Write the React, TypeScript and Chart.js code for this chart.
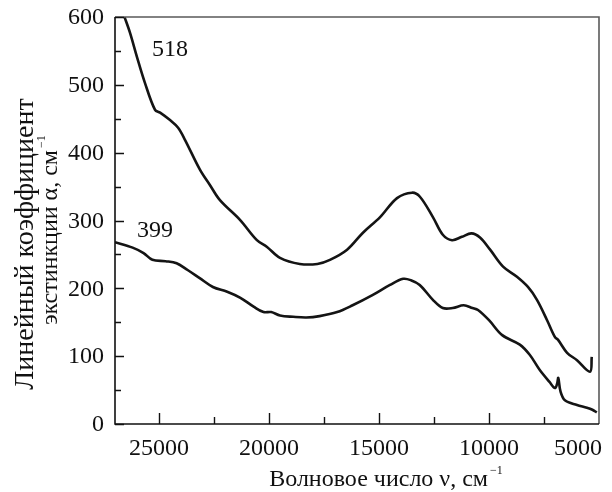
import { useEffect, useRef } from "react";
import { Chart, registerables } from "chart.js";

Chart.register(...registerables);

// Sample 518: wavenumber (cm^-1) and linear extinction coefficient (cm^-1)
const waveNum518 = [
  26600, 26320, 26000, 25640, 25180, 24950, 24500, 24140, 23820, 23140, 22680,
  22230, 21320, 20550, 20090, 19500, 18600, 17800, 17230, 16450, 15730, 14950,
  14180, 13500, 13140, 12550, 12100, 11680, 11230, 10800, 10410, 9950, 9360,
  8730, 8230, 7820, 7360, 7000, 6860, 6450, 6000, 5410, 5330,
];
const alpha518 = [
  603, 577, 541, 503, 463, 459, 448, 437, 419, 375, 352, 330, 301, 271, 261,
  245, 236, 236, 242, 257, 282, 305, 333, 341, 335, 305, 279, 271, 276, 281,
  275, 257, 232, 217, 202, 183, 153, 128, 124, 105, 94, 77, 99,
];

// Sample 399
const waveNum399 = [
  27000, 26200, 25700, 25300, 24700, 24200, 23700, 23150, 22550, 21900, 21300,
  20700, 20250, 19900, 19500, 18900, 18300, 17700, 16900, 16200, 15300, 14500,
  13900, 13550, 13150, 12550, 12100, 11650, 11150, 10750, 10500, 10000, 9400,
  8600, 8150, 7700, 7250, 7000, 6900, 6850, 6750, 6550, 6000, 5550, 5300, 5100,
];
const alpha399 = [
  268, 260, 252, 242, 240, 237, 227, 215, 202, 195, 186, 173, 165, 165, 160,
  158, 157, 159, 165, 175, 190, 205, 214, 212, 205, 183, 171, 171, 175, 171,
  168, 153, 131, 117, 102, 80, 62, 53, 60, 68, 48, 35, 28, 24, 21, 17,
];

const xMajorTicks = [25000, 20000, 15000, 10000, 5000];
const xMinorTicks = [22500, 17500, 12500, 7500];
const yMajorTicks = [0, 100, 200, 300, 400, 500, 600];
const yMinorTicks = [50, 150, 250, 350, 450, 550];

const curveNames = ["518", "399"];
const curveNameWave = [24500, 25180];
const curveNameAlpha = [552, 285];

const SERIF = '"Liberation Serif", "Times New Roman", serif';
const TICK_SIZE = 24;

function drawWithSuperscript(
  ctx: CanvasRenderingContext2D,
  main: string,
  sup: string,
  cx: number,
  baseline: number,
  size: number
) {
  ctx.font = `${size}px ${SERIF}`;
  const w1 = ctx.measureText(main).width;
  const supSize = Math.round(size * 0.52);
  ctx.font = `${supSize}px ${SERIF}`;
  const w2 = ctx.measureText(sup).width;
  const start = cx - (w1 + w2 + 2) / 2;
  ctx.textAlign = "left";
  ctx.textBaseline = "alphabetic";
  ctx.font = `${size}px ${SERIF}`;
  ctx.fillText(main, start, baseline);
  ctx.font = `${supSize}px ${SERIF}`;
  ctx.fillText(sup, start + w1 + 2, baseline - size * 0.5);
}

const frameAndLabels = {
  id: "frameAndLabels",
  afterDraw(chart: Chart) {
    const { ctx, chartArea, scales } = chart;
    const { left, right, top, bottom } = chartArea;
    const x = scales.x;
    const y = scales.y;
    ctx.save();

    // box: top/right lighter, left/bottom axes black
    ctx.lineWidth = 1.6;
    ctx.strokeStyle = "#5a5a5a";
    ctx.beginPath();
    ctx.moveTo(left, top);
    ctx.lineTo(right, top);
    ctx.lineTo(right, bottom);
    ctx.stroke();
    ctx.strokeStyle = "#111";
    ctx.beginPath();
    ctx.moveTo(left, top);
    ctx.lineTo(left, bottom);
    ctx.lineTo(right, bottom);
    ctx.stroke();

    // inward tick marks
    ctx.lineWidth = 1.4;
    ctx.beginPath();
    for (const v of xMajorTicks) {
      const px = Math.round(x.getPixelForValue(v)) + 0.5;
      if (px > right - 1) continue;
      ctx.moveTo(px, bottom);
      ctx.lineTo(px, bottom - 11);
    }
    for (const v of xMinorTicks) {
      const px = Math.round(x.getPixelForValue(v)) + 0.5;
      ctx.moveTo(px, bottom);
      ctx.lineTo(px, bottom - 7);
    }
    for (const v of yMajorTicks) {
      const py = Math.round(y.getPixelForValue(v)) + 0.5;
      ctx.moveTo(left, py);
      ctx.lineTo(left + 9, py);
    }
    for (const v of yMinorTicks) {
      const py = Math.round(y.getPixelForValue(v)) + 0.5;
      ctx.moveTo(left, py);
      ctx.lineTo(left + 6, py);
    }
    ctx.stroke();

    // tick labels
    ctx.fillStyle = "#111";
    ctx.font = `${TICK_SIZE}px ${SERIF}`;
    ctx.textAlign = "right";
    ctx.textBaseline = "middle";
    for (const v of yMajorTicks) {
      ctx.fillText(String(v), left - 11, y.getPixelForValue(v) + 1);
    }
    ctx.textAlign = "center";
    ctx.textBaseline = "alphabetic";
    const maxRight = chart.width - 10;
    for (const v of xMajorTicks) {
      const label = String(v);
      const w = ctx.measureText(label).width;
      const px = Math.min(x.getPixelForValue(v), maxRight - w / 2);
      ctx.fillText(label, px, bottom + 31);
    }

    // curve names
    ctx.font = `${TICK_SIZE}px ${SERIF}`;
    ctx.textBaseline = "middle";
    curveNames.forEach((name, i) => {
      ctx.fillText(
        name,
        x.getPixelForValue(curveNameWave[i]),
        y.getPixelForValue(curveNameAlpha[i])
      );
    });

    // axis titles
    drawWithSuperscript(ctx, "Волновое число ν, см", "−1", 386, 486, 24);

    ctx.save();
    ctx.translate(33, 244);
    ctx.rotate(-Math.PI / 2);
    ctx.font = `28px ${SERIF}`;
    ctx.textAlign = "center";
    ctx.textBaseline = "alphabetic";
    ctx.fillText("Линейный коэффициент", 0, 0);
    ctx.restore();

    ctx.save();
    ctx.translate(57, 230);
    ctx.rotate(-Math.PI / 2);
    drawWithSuperscript(ctx, "экстинкции α, см", "−1", 0, 0, 24);
    ctx.restore();

    ctx.restore();
  },
};

export default function App() {
  const canvasRef = useRef<HTMLCanvasElement | null>(null);

  useEffect(() => {
    document.body.style.margin = "0";
    const canvas = canvasRef.current;
    if (!canvas) return;
    const toPoints = (xs: number[], ys: number[]) =>
      xs.map((v, i) => ({ x: v, y: ys[i] }));
    const lineStyle = {
      borderColor: "#141414",
      borderWidth: 2.6,
      pointRadius: 0,
      tension: 0.35,
      fill: false,
    };
    const chart = new Chart(canvas, {
      type: "line",
      data: {
        datasets: [
          { label: "518", data: toPoints(waveNum518, alpha518), ...lineStyle },
          { label: "399", data: toPoints(waveNum399, alpha399), ...lineStyle },
        ],
      },
      options: {
        responsive: false,
        animation: false,
        devicePixelRatio: 1,
        layout: { padding: { left: 115, right: 13, top: 17, bottom: 68 } },
        plugins: {
          legend: { display: false },
          tooltip: { enabled: false },
        },
        scales: {
          x: {
            type: "linear",
            min: 5000,
            max: 27000,
            reverse: true,
            display: false,
          },
          y: {
            type: "linear",
            min: 0,
            max: 600,
            display: false,
          },
        },
      },
      plugins: [frameAndLabels],
    });
    return () => chart.destroy();
  }, []);

  return (
    <div style={{ width: 612, height: 492, background: "#fff" }}>
      <canvas
        ref={canvasRef}
        width={612}
        height={492}
        style={{ display: "block", width: 612, height: 492 }}
      />
    </div>
  );
}
